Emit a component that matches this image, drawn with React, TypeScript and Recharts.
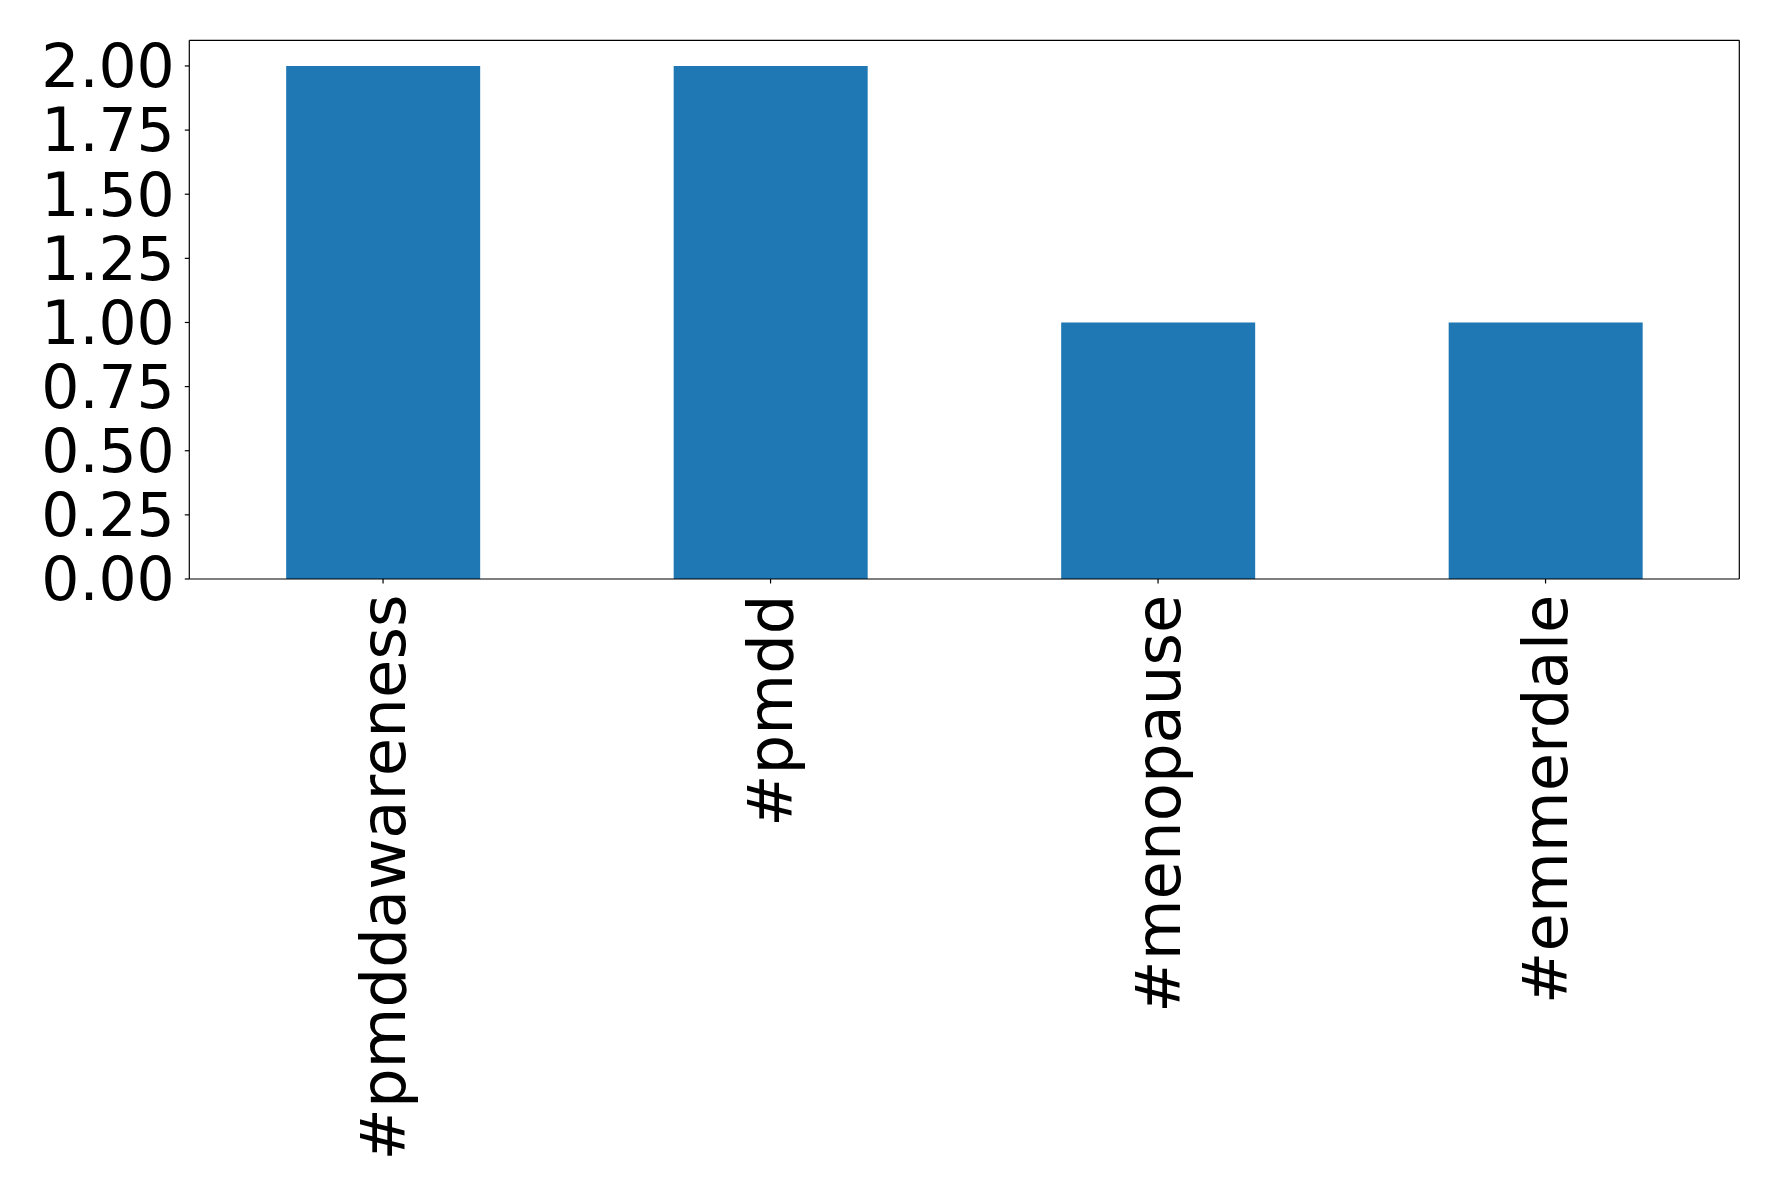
import React from 'react';
import { BarChart, Bar, XAxis, YAxis } from 'recharts';

const categories = ['#pmddawareness', '#pmdd', '#menopause', '#emmerdale'];
const counts = [2, 2, 1, 1];
const yTicks = [0, 0.25, 0.5, 0.75, 1.0, 1.25, 1.5, 1.75, 2.0];

const data = categories.map((c, i) => ({ name: c, value: counts[i] }));

const FONT = 'DejaVu Sans';
const FS = 62.5;
const FSY = 60;

const XTick = (props: any) => {
  const { x, y, payload } = props;
  return (
    <text
      x={x}
      y={y}
      transform={`rotate(-90, ${x}, ${y})`}
      textAnchor="end"
      dominantBaseline="central"
      fontFamily={FONT}
      fontSize={FS}
      fill="#000"
    >
      {payload.value}
    </text>
  );
};

const W = 1770;
const H = 1186;
const PL = 181.3;
const PT = 32.3;
const PR = 1731.3;
const PB = 571;

export default function App() {
  return (
    <div style={{ width: W, height: H, background: '#fff' }}>
      <BarChart
        width={W}
        height={H}
        data={data}
        margin={{ top: PT - 1, right: W - PR - 1, left: 0, bottom: 0 }}
        barCategoryGap="25%"
      >
        <XAxis
          dataKey="name"
          height={H - PB}
          tick={<XTick />}
          tickSize={4.5}
          tickMargin={11}
          interval={0}
          axisLine={{ stroke: '#000', strokeWidth: 1.2 }}
          tickLine={{ stroke: '#000', strokeWidth: 1.2 }}
        />
        <XAxis
          xAxisId="top"
          dataKey="name"
          orientation="top"
          height={1}
          tick={false}
          tickLine={false}
          axisLine={{ stroke: '#000', strokeWidth: 1.2 }}
        />
        <YAxis
          domain={[0, 2.1]}
          ticks={yTicks}
          interval={0}
          width={PL}
          tickSize={4.5}
          tickMargin={10}
          tickFormatter={(v: number) => v.toFixed(2)}
          tick={{ fontFamily: FONT, fontSize: FSY, fill: '#000' }}
          axisLine={{ stroke: '#000', strokeWidth: 1.2 }}
          tickLine={{ stroke: '#000', strokeWidth: 1.2 }}
          allowDataOverflow
        />
        <YAxis
          yAxisId="right"
          orientation="right"
          domain={[0, 2.1]}
          width={1}
          tick={false}
          tickLine={false}
          axisLine={{ stroke: '#000', strokeWidth: 1.2 }}
        />
        <Bar dataKey="value" fill="#1f77b4" isAnimationActive={false} />
      </BarChart>
    </div>
  );
}
